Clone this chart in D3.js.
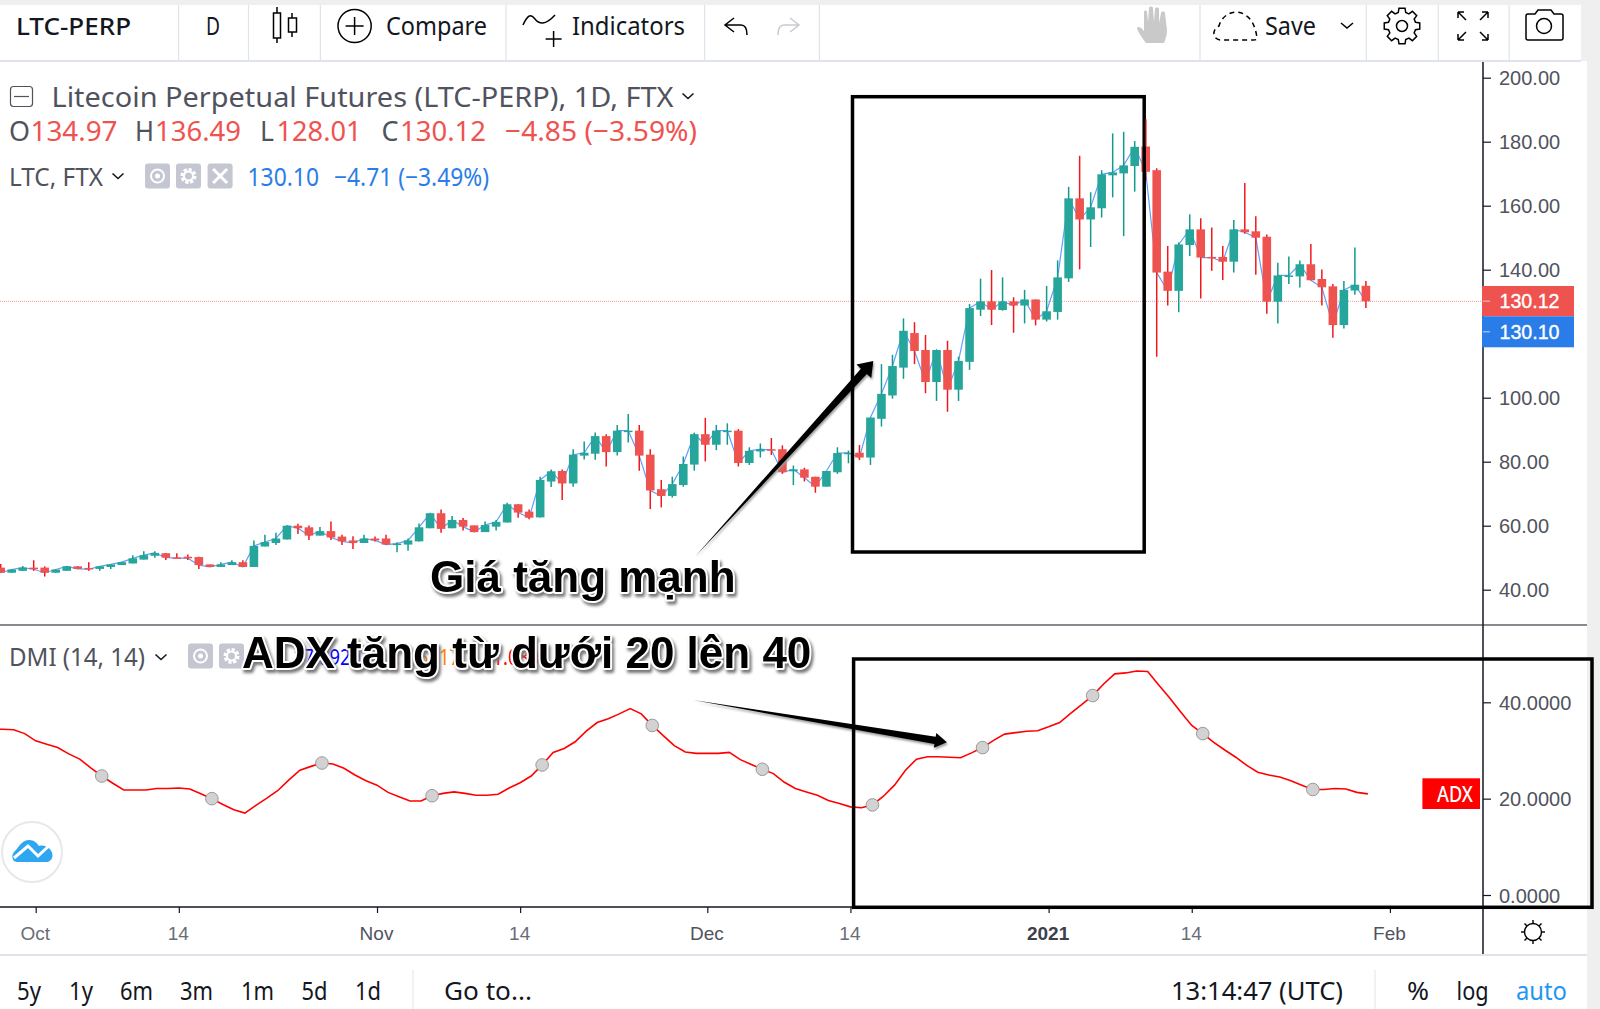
<!DOCTYPE html>
<html>
<head>
<meta charset="utf-8">
<script src="https://cdn.jsdelivr.net/npm/d3@7"></script>
<style>
  html, body { margin: 0; padding: 0; background: #fff; overflow: hidden; }
  svg { display: block; }
  .axis text { font-family: "Liberation Sans", Arial, sans-serif; }
  .axis path { display: none; }
  .callout { font-family: "Liberation Sans", Arial, sans-serif; font-weight: bold; font-size: 44px;
    fill: #000; stroke: #fff; stroke-width: 4px; paint-order: stroke; stroke-linejoin: round;
    filter: drop-shadow(2px 3px 1.5px #777); }
  .pointer { fill: #000; filter: drop-shadow(1px 2px 1px #999); }
</style>
</head>
<body>
<div id="chart"></div>
<script>
// daily candles, 28 Sep 2020 -> 30 Jan 2021
const opens = [46.9,45.3,45.9,46.9,46.9,45.3,45.9,47.3,46.8,46.5,47.1,47.7,48.2,49.4,50.6,51.4,50.1,50.3,50.2,47.9,47.1,47.7,48.6,47.1,53.5,54.6,55.7,60.0,59.5,56.9,58.3,56.6,55.4,54.6,56.0,56.0,54.2,54.1,55.1,59.2,63.9,59.2,61.8,60.1,58.0,59.7,61.0,66.7,64.4,62.6,73.8,77.1,73.2,81.9,82.5,88.0,83.0,89.4,89.7,82.2,71.4,69.3,72.7,79.1,88.6,85.3,89.4,89.7,79.6,83.2,83.9,83.9,77.0,77.6,75.3,72.2,76.7,82.5,82.8,81.3,93.4,100.7,109.4,120.2,114.9,104.9,114.9,102.5,111.2,127.5,130.1,127.4,130.1,128.8,130.7,124.4,126.8,137.3,162.3,155.7,159.2,169.5,170.1,172.4,178.5,171.1,139.4,133.4,147.7,152.6,144.0,144.0,142.5,152.6,152.0,150.3,130.0,138.0,137.9,141.7,137.1,134.8,122.7,133.5,134.97];
const highs = [48.0,46.4,47.4,49.2,47.3,46.4,47.4,47.4,48.6,47.4,48.0,48.7,50.8,52.0,52.0,51.5,51.4,51.0,50.3,47.9,48.6,49.2,49.2,55.4,57.2,57.8,60.1,60.6,60.1,59.6,61.3,57.2,56.7,57.2,56.6,57.2,54.8,56.0,60.7,63.9,65.1,63.0,62.4,60.1,61.3,61.8,67.2,66.7,65.1,75.3,77.6,77.6,83.9,86.3,89.1,88.6,91.5,94.9,91.5,83.9,74.3,75.3,81.6,89.1,93.7,91.5,92.0,90.2,84.5,85.7,87.4,85.1,78.8,78.1,75.3,77.1,84.5,83.5,85.2,93.8,110.5,113.4,124.8,123.6,119.6,114.9,117.8,112.8,129.3,137.2,139.9,137.6,131.4,133.7,130.7,134.9,142.9,165.9,175.6,164.2,171.1,182.6,183.1,180.2,187.0,171.7,147.4,148.5,157.3,156.1,153.2,147.4,155.5,167.1,156.7,151.0,142.2,144.1,142.9,148.0,140.1,135.5,136.5,146.9,136.49];
const lows = [45.3,45.3,45.9,45.9,44.1,45.3,45.9,46.5,45.9,45.9,46.5,47.7,48.2,49.4,50.0,49.3,49.9,49.3,46.5,47.1,47.1,47.7,47.1,47.1,53.5,54.0,55.7,57.4,55.5,56.9,55.5,54.0,52.7,54.6,55.1,54.0,51.7,52.2,55.1,59.2,57.8,59.2,58.5,58.0,58.0,58.5,61.0,62.5,62.0,62.6,72.1,68.0,72.2,80.7,80.6,78.5,81.9,86.0,77.2,65.2,65.7,68.8,72.2,77.2,80.1,83.6,85.3,78.5,79.0,81.3,82.1,76.2,72.7,73.8,70.3,72.2,76.2,79.5,80.5,79.0,91.0,99.7,105.9,110.5,101.4,99.0,95.6,99.0,108.7,125.5,122.7,127.2,120.3,123.2,122.6,123.8,124.4,136.2,140.1,147.1,156.3,162.6,150.5,164.4,168.0,112.8,128.8,126.7,144.3,131.0,139.7,136.8,139.1,151.2,138.4,126.2,123.2,135.5,134.4,136.7,128.8,118.7,121.6,132.2,128.01];
const closes = [45.3,46.3,46.9,46.4,45.3,46.3,47.3,46.5,46.4,47.3,47.9,48.6,49.8,50.8,51.5,50.0,49.9,49.8,47.7,47.1,47.9,48.6,47.1,53.7,54.9,56.0,60.0,59.2,56.9,58.3,56.3,55.1,54.6,56.0,55.4,54.1,54.4,55.4,59.5,63.9,59.0,61.8,59.7,58.0,60.2,61.2,66.7,64.1,62.5,74.3,77.0,73.2,82.2,82.8,88.0,83.0,89.7,89.7,81.9,71.0,69.3,73.0,79.3,88.6,85.3,89.7,89.7,79.6,83.4,83.9,83.7,76.7,77.6,75.0,72.2,77.1,82.7,82.8,81.3,93.8,101.2,109.9,120.9,114.6,104.9,114.9,102.5,111.5,128.0,130.1,127.5,130.1,128.8,130.7,124.4,127.0,137.6,162.3,155.7,159.5,169.8,170.4,172.6,178.4,170.6,139.1,133.4,147.9,152.6,143.8,143.8,142.5,152.6,151.7,150.0,130.0,138.2,138.2,141.7,136.7,134.5,122.7,133.7,135.3,130.12];
// adx starts one day earlier than the candles, it runs off the left edge
const adxValues = [34.4,34.4,34.3,33.5,32.0,31.3,30.6,29.3,28.2,26.4,24.7,23.2,21.8,21.8,21.8,22.1,22.1,22.2,22.0,21.0,20.0,18.8,17.7,17.0,18.6,20.1,21.7,23.9,25.9,26.7,27.4,27.2,26.3,24.9,23.7,22.8,21.3,20.4,19.5,19.5,20.6,21.1,21.4,21.1,20.7,20.7,20.9,22.2,23.3,24.7,27.0,29.6,30.4,31.8,34.0,35.8,36.6,37.6,38.7,37.6,35.2,33.1,31.0,29.7,29.4,29.4,29.4,29.6,28.1,27.1,26.1,25.2,23.4,22.1,21.4,20.7,19.6,19.0,18.3,18.1,18.7,20.5,22.8,25.9,28.2,28.7,28.7,28.6,28.5,29.5,30.6,32.1,33.4,33.7,34.0,34.1,34.9,35.8,37.7,39.5,41.4,43.8,45.9,46.1,46.5,46.4,43.6,40.9,38.0,35.2,33.5,31.7,30.1,28.6,26.9,25.5,24.9,24.5,23.7,22.8,21.9,21.9,22.1,22.0,21.3,21.0];

const priceTicks = [40, 60, 80, 100, 120, 140, 160, 180, 200];
const adxTicks = [0, 20, 40];
const timeTicks = [[2020, 9, 1], [2020, 9, 14], [2020, 10, 1], [2020, 10, 14], [2020, 11, 1], [2020, 11, 14], [2021, 0, 1], [2021, 0, 14], [2021, 1, 1]];
const timeLabels = ["Oct", "14", "Nov", "14", "Dec", "14", "2021", "14", "Feb"];
const rangeButtons = ["5y", "1y", "6m", "3m", "1m", "5d", "1d"];
const rangeLeft = [17, 69, 120, 180, 241, 301.5, 355];
const rangeWidth = [24, 24, 33, 33, 33, 26, 26];

const W = 1600, H = 1009;
const axisX = 1483, paneSplit = 625, timeY = 907, footerY = 955;
const firstDay = new Date(Date.UTC(2020, 8, 28));
const lastDay = new Date(Date.UTC(2021, 0, 30));
const GREEN = "#26a69a", RED = "#ef5350", INK = "#131722", MUTED = "#50535e", BLUE = "#2a7de8";
const UI_FONT = '"Noto Sans", sans-serif';

const svg = d3.select("#chart").append("svg").attr("width", W).attr("height", H);
svg.append("rect").attr("width", W).attr("height", H).attr("fill", "#fff");

const x = d3.scaleUtc().domain([firstDay, lastDay]).range([0.67, 1365.9]);
const y = d3.scaleLinear().domain([200, 40]).range([77.7, 589.7]);
const yAdx = d3.scaleLinear().domain([0, 40]).range([895, 702.3]);

const candles = opens.map((o, i) => ({
  day: d3.utcDay.offset(firstDay, i), o, h: highs[i], l: lows[i], c: closes[i],
}));
const adx = adxValues.map((v, i) => ({ day: d3.utcDay.offset(firstDay, i - 1), v, i }));

// plain text helper, width forces the run to the width seen in the picture
function label(parent, px, py, str, size, fill, width, family, weight) {
  const t = parent.append("text")
    .attr("x", px).attr("y", py).attr("dy", "0.36em")
    .attr("font-family", family || UI_FONT)
    .attr("font-size", size)
    .attr("font-weight", weight || 400)
    .attr("fill", fill)
    .text(str);
  if (width) t.attr("textLength", width).attr("lengthAdjust", "spacingAndGlyphs");
  return t;
}

// --- chrome ---
const chrome = svg.append("g");
chrome.append("rect").attr("width", W).attr("height", 5).attr("fill", "#efefef");
chrome.append("rect").attr("x", 1581).attr("width", 19).attr("height", 61).attr("fill", "#efefef");
chrome.append("rect").attr("x", 1587).attr("width", 13).attr("height", H).attr("fill", "#efefef");
chrome.append("line").attr("x1", 0).attr("x2", 1581).attr("y1", 61).attr("y2", 61).attr("stroke", "#e0e3eb").attr("stroke-width", 2);
chrome.append("line").attr("x1", 0).attr("x2", 1587).attr("y1", footerY).attr("y2", footerY).attr("stroke", "#e0e3eb").attr("stroke-width", 2);
[178.6, 248.5, 320.4, 506, 704.6, 819.4, 1200, 1366.3, 1438.3, 1509.2].forEach((sx) => {
  chrome.append("line").attr("x1", sx).attr("x2", sx).attr("y1", 5).attr("y2", 61).attr("stroke", "#e0e3eb").attr("stroke-width", 1.2);
});
[413, 1375].forEach((sx) => {
  chrome.append("line").attr("x1", sx).attr("x2", sx).attr("y1", 970).attr("y2", H).attr("stroke", "#e0e3eb");
});

// --- toolbar ---
const bar = svg.append("g");
label(bar, 16, 26, "LTC-PERP", 24, INK, 115, UI_FONT, 500);
label(bar, 206, 26, "D", 25, INK, 14);
const ico = bar.append("g").attr("fill", "none").attr("stroke", "#000").attr("stroke-width", 1.5);
ico.append("path").attr("d", "M277 7V13M277 38V43M292 13V18M292 32V37");
ico.append("rect").attr("x", 273.5).attr("y", 13).attr("width", 7).attr("height", 25);
ico.append("rect").attr("x", 288.5).attr("y", 18).attr("width", 8).attr("height", 14);
ico.append("circle").attr("cx", 354.6).attr("cy", 26).attr("r", 16.6);
ico.append("path").attr("d", "M354.6 17V35M345.6 26H363.6");
ico.append("path").attr("d", "M523 25C528 14 531 14 535 19C539 24 545 26 555 15M553.6 31V47M545.6 39H561.6");
ico.append("path").attr("d", "M734 18L725 25L734 32M725 25H741C745 25 747 29 747 35");
ico.append("path").attr("stroke", "#c8cad0").attr("d", "M790 18L799 25L790 32M799 25H784C780 25 778 29 778 35");
label(bar, 386, 26, "Compare", 26, INK, 101);
label(bar, 572, 26, "Indicators", 26, INK, 113);

// hand
bar.append("path").attr("fill", "#c9c9c9")
  .attr("d", "M1146 43C1142 38 1137 30 1137 28C1138 26 1141 27 1144 31L1144 12C1144 10 1147 10 1147 12L1148 22L1149 8C1149 6 1153 6 1153 8L1154 22L1155 9C1155 7 1159 7 1159 9L1159 23L1161 13C1161 11 1165 11 1165 13L1167 30C1167 36 1165 40 1164 43Z");

// save
ico.append("path").attr("stroke-dasharray", "5 4")
  .attr("d", "M1220 40C1212 39 1212 29 1219 26C1222 14 1236 8 1245 15C1253 19 1256 30 1257 38C1257 40 1255 40 1253 40Z");
label(bar, 1265, 26, "Save", 26, INK, 51);
ico.append("path").attr("d", "M1341 23L1347 28L1353 23");

// gear with 8 square teeth
const gear = d3.range(8).flatMap((k) => {
  const a = (k / 8) * 2 * Math.PI;
  return [[a - 0.27, 14], [a - 0.17, 18], [a + 0.17, 18], [a + 0.27, 14]]
    .map(([t, r]) => [1402 + r * Math.cos(t), 26 + r * Math.sin(t)]);
});
ico.append("path").attr("d", d3.line().curve(d3.curveLinearClosed)(gear));
ico.append("circle").attr("cx", 1402).attr("cy", 26).attr("r", 5.5);

ico.append("path").attr("d", "M1458 12L1466 20M1458 12V18M1458 12H1464M1488 12L1480 20M1488 12V18M1488 12H1482M1458 40L1466 32M1458 40V34M1458 40H1464M1488 40L1480 32M1488 40V34M1488 40H1482");
ico.append("path").attr("d", "M1528 14H1535L1538 10H1551L1554 14H1561C1563 14 1563 15 1563 16V38C1563 39 1562 40 1561 40H1528C1526 40 1526 39 1526 38V16C1526 15 1526 14 1528 14Z");
ico.append("circle").attr("cx", 1544).attr("cy", 26).attr("r", 7.5);

// --- legend ---
const legend = svg.append("g");
legend.append("rect").attr("x", 10.5).attr("y", 86.5).attr("width", 22).attr("height", 20).attr("rx", 3)
  .attr("fill", "none").attr("stroke", MUTED).attr("stroke-width", 1.2);
legend.append("line").attr("x1", 14).attr("x2", 29).attr("y1", 96.5).attr("y2", 96.5).attr("stroke", MUTED).attr("stroke-width", 1.2);
label(legend, 51.5, 97, "Litecoin Perpetual Futures (LTC-PERP), 1D, FTX", 28, MUTED, 622);
const chev = (g, cx, cy) => g.append("path")
  .attr("d", `M${cx - 5.5} ${cy - 2.5}L${cx} ${cy + 2.5}L${cx + 5.5} ${cy - 2.5}`)
  .attr("fill", "none").attr("stroke", INK).attr("stroke-width", 1.6);
chev(legend, 688, 96);

const ohlc = [
  [9, "O", MUTED, 21], [30.5, "134.97", RED, 87],
  [135, "H", MUTED, 19], [155, "136.49", RED, 86],
  [260, "L", MUTED, 14], [276.5, "128.01", RED, 85],
  [381.5, "C", MUTED, 17], [400, "130.12", RED, 86],
  [505, "\u22124.85 (\u22123.59%)", RED, 192],
];
ohlc.forEach(([px, str, col, w]) => label(legend, px, 131, str, 28, col, w));

label(legend, 9, 176.5, "LTC, FTX", 25, MUTED, 94);
chev(legend, 118, 176);
label(legend, 247.5, 176.5, "130.10", 25, BLUE, 71.5);
label(legend, 334, 176.5, "\u22124.71 (\u22123.49%)", 25, BLUE, 155);

function paneButtons(g, xs, top, h, w) {
  xs.forEach((bx, k) => {
    g.append("rect").attr("x", bx).attr("y", top).attr("width", w).attr("height", h).attr("rx", 3).attr("fill", "#c4c7d1");
    const cx = bx + w / 2, cy = top + h / 2;
    if (k === 0) {
      g.append("circle").attr("cx", cx).attr("cy", cy).attr("r", 6.5).attr("fill", "none").attr("stroke", "#fff").attr("stroke-width", 2);
      g.append("circle").attr("cx", cx).attr("cy", cy).attr("r", 2.5).attr("fill", "#fff");
    } else if (k === 1) {
      g.append("circle").attr("cx", cx).attr("cy", cy).attr("r", 6).attr("fill", "none").attr("stroke", "#fff").attr("stroke-width", 4).attr("stroke-dasharray", "3 1.6");
      g.append("circle").attr("cx", cx).attr("cy", cy).attr("r", 4.5).attr("fill", "none").attr("stroke", "#fff").attr("stroke-width", 2);
    } else {
      g.append("path").attr("d", `M${cx - 7} ${cy - 7}L${cx + 7} ${cy + 7}M${cx + 7} ${cy - 7}L${cx - 7} ${cy + 7}`).attr("stroke", "#fff").attr("stroke-width", 3);
    }
  });
}
paneButtons(legend, [145, 176, 207.6], 163.5, 25, 25);

// DMI legend, mostly covered by the callout later
label(legend, 9, 657, "DMI (14, 14)", 25, MUTED, 136);
chev(legend, 161, 657);
paneButtons(legend, [188, 219], 643.5, 25, 25);
label(legend, 293, 657, "17.8929", 22, "#0000ff", 68);
label(legend, 392, 657, "16.5117", 22, "#ff7f00", 68);
label(legend, 482, 657, "21.0804", 22, "#ff0000", 68);

// --- price pane ---
const plot = svg.append("g");
plot.append("line").attr("x1", 0).attr("x2", axisX).attr("y1", y(closes[closes.length - 1])).attr("y2", y(closes[closes.length - 1]))
  .attr("stroke", RED).attr("stroke-width", 1).attr("stroke-dasharray", "1 1").attr("opacity", 0.6);

plot.append("path").datum(candles)
  .attr("fill", "none").attr("stroke", "#5f9fff").attr("stroke-width", 1.2)
  .attr("d", d3.line().x((d) => x(d.day)).y((d) => y(d.c)));

plot.selectAll("line.wick").data(candles).join("line")
  .attr("class", "wick")
  .attr("x1", (d) => x(d.day)).attr("x2", (d) => x(d.day))
  .attr("y1", (d) => y(d.h)).attr("y2", (d) => y(d.l))
  .attr("stroke", (d) => (d.c >= d.o ? "#129a8c" : "#f5161b"))
  .attr("stroke-width", 1.5);

plot.selectAll("rect.body").data(candles).join("rect")
  .attr("class", "body")
  .attr("x", (d) => x(d.day) - 4.3)
  .attr("width", 8.6)
  .attr("y", (d) => y(Math.max(d.o, d.c)))
  .attr("height", (d) => Math.max(1.5, Math.abs(y(d.o) - y(d.c))))
  .attr("fill", (d) => (d.c >= d.o ? GREEN : RED));

// --- ADX pane (this pane sits 2px right of the candles in the picture) ---
const paneShift = 2;
const adxG = svg.append("g").attr("transform", `translate(${paneShift},0)`);
adxG.append("path").datum(adx)
  .attr("fill", "none").attr("stroke", "#ff0000").attr("stroke-width", 1.6)
  .attr("d", d3.line().x((d) => x(d.day)).y((d) => yAdx(d.v)));
adxG.selectAll("circle").data(adx.filter((d) => d.i % 10 === 0 && d.i > 0)).join("circle")
  .attr("cx", (d) => x(d.day)).attr("cy", (d) => yAdx(d.v)).attr("r", 6.3)
  .attr("fill", "#d2d2d2").attr("stroke", "#9a9a9a").attr("stroke-width", 1);

// floating logo
const logo = svg.append("g");
logo.append("circle").attr("cx", 32).attr("cy", 852).attr("r", 30).attr("fill", "#fff").attr("stroke", "#e8e8e8").attr("stroke-width", 2);
logo.append("path").attr("fill", "#2ea6f2")
  .attr("d", "M17 862C11 862 11 853 16 850C19 846 23 840 29 840C34 840 37 843 39 846C46 844 53 850 52.5 856C52 860 49 862 46 862Z");
logo.append("path").attr("fill", "none").attr("stroke", "#fff").attr("stroke-width", 3)
  .attr("d", "M14 858L28 846L38 856L52 843");

// --- axes ---
const axisLines = svg.append("g").attr("stroke", INK);
axisLines.append("line").attr("x1", axisX).attr("x2", axisX).attr("y1", 62).attr("y2", 954).attr("stroke-width", 1.5);
axisLines.append("line").attr("x1", 0).attr("x2", 1587).attr("y1", paneSplit).attr("y2", paneSplit).attr("stroke-width", 1.2);
axisLines.append("line").attr("x1", 0).attr("x2", axisX).attr("y1", timeY).attr("y2", timeY).attr("stroke-width", 1.5);

function styleAxis(g) {
  g.call((s) => s.selectAll(".tick line").attr("stroke", INK).attr("stroke-width", 1.2));
  g.call((s) => s.selectAll(".tick text").attr("fill", MUTED).attr("font-size", 20));
}

svg.append("g").attr("class", "axis").attr("transform", `translate(${axisX},0)`)
  .call(d3.axisRight(y).tickValues(priceTicks).tickSize(8).tickPadding(8).tickFormat(d3.format(".2f")))
  .call(styleAxis)
  .call((s) => s.selectAll(".tick text").attr("dy", "0.36em"));

svg.append("g").attr("class", "axis").attr("transform", `translate(${axisX},0)`)
  .call(d3.axisRight(yAdx).tickValues(adxTicks).tickSize(8).tickPadding(8).tickFormat(d3.format(".4f")))
  .call(styleAxis)
  .call((s) => s.selectAll(".tick text").attr("dy", "0.36em"));

const timeDates = timeTicks.map(([yr, mo, da]) => new Date(Date.UTC(yr, mo, da)));
svg.append("g").attr("class", "axis").attr("transform", `translate(${paneShift},${timeY})`)
  .call(d3.axisBottom(x).tickValues(timeDates).tickSize(6).tickPadding(12)
    .tickFormat((_, i) => timeLabels[i]))
  .call(styleAxis)
  .call((s) => s.selectAll(".tick text").attr("font-size", 19).attr("dy", "0.8em").attr("dx", -1)
    .attr("fill", (_, i) => (timeLabels[i] === "2021" ? "#3d404b" : (timeLabels[i] === "14" || timeLabels[i] === "Oct" ? "#6a6d78" : MUTED)))
    .attr("font-weight", (_, i) => (timeLabels[i] === "2021" ? 700 : 400)));

// last value tags
const tags = svg.append("g");
[[286, 30.3, RED, "130.12"], [316.3, 31, BLUE, "130.10"]].forEach(([top, h, col, str]) => {
  tags.append("rect").attr("x", 1482).attr("y", top).attr("width", 92).attr("height", h).attr("fill", col);
  tags.append("line").attr("x1", 1483).attr("x2", 1490).attr("y1", top + h / 2).attr("y2", top + h / 2).attr("stroke", "#fff").attr("opacity", 0.7);
  label(tags, 1499.5, top + h / 2 - 0.5, str, 20, "#fff", 60, '"Liberation Sans", Arial, sans-serif', 400)
    .attr("stroke", "#fff").attr("stroke-width", 0.35);
});
tags.append("rect").attr("x", 1422.4).attr("y", 778.3).attr("width", 57.6).attr("height", 30.7).attr("fill", "#ff0000");
label(tags, 1437, 794, "ADX", 22, "#fff", 36, UI_FONT, 500);

// sun icon
const sun = svg.append("g").attr("fill", "none").attr("stroke", "#000").attr("stroke-width", 1.4);
sun.append("circle").attr("cx", 1533).attr("cy", 932).attr("r", 8.5);
d3.range(8).forEach((k) => {
  const a = (k / 8) * 2 * Math.PI;
  sun.append("line")
    .attr("x1", 1533 + 8.5 * Math.cos(a)).attr("y1", 932 + 8.5 * Math.sin(a))
    .attr("x2", 1533 + 12 * Math.cos(a)).attr("y2", 932 + 12 * Math.sin(a));
});

// --- footer ---
const foot = svg.append("g");
rangeButtons.forEach((b, i) => label(foot, rangeLeft[i], 991, b, 26, INK, rangeWidth[i]));
label(foot, 444, 991, "Go to...", 26, INK, 88);
label(foot, 1171, 991, "13:14:47 (UTC)", 26, INK, 172);
label(foot, 1407, 991, "%", 26, INK, 22);
label(foot, 1456.6, 991, "log", 26, INK, 32);
label(foot, 1516, 991, "auto", 26, "#2196f3", 51);

// --- hand drawn annotations on top ---
function pointerPath(tail, tip, neck, head, len) {
  const dx = tip[0] - tail[0], dy = tip[1] - tail[1];
  const d = Math.hypot(dx, dy), ux = dx / d, uy = dy / d, nx = -uy, ny = ux;
  const bx = tip[0] - ux * len, by = tip[1] - uy * len;
  const pts = [
    [tail[0], tail[1]],
    [bx + (nx * neck) / 2, by + (ny * neck) / 2],
    [bx + (nx * head) / 2, by + (ny * head) / 2],
    tip,
    [bx - (nx * head) / 2, by - (ny * head) / 2],
    [bx - (nx * neck) / 2, by - (ny * neck) / 2],
  ];
  return d3.line().curve(d3.curveLinearClosed)(pts);
}
const notes = svg.append("g");
notes.append("path").attr("class", "pointer").attr("d", pointerPath([695, 556.7], [873.3, 361], 8, 20, 14));
notes.append("path").attr("class", "pointer").attr("d", pointerPath([693, 700], [946.9, 742.3], 7.5, 15, 12));

notes.append("rect").attr("x", 852.5).attr("y", 96.7).attr("width", 291.7).attr("height", 455.3)
  .attr("fill", "none").attr("stroke", "#000").attr("stroke-width", 3.5);
notes.append("rect").attr("x", 853.6).attr("y", 659).attr("width", 738.4).attr("height", 248.3)
  .attr("fill", "none").attr("stroke", "#000").attr("stroke-width", 3.5);

// the tall red wick shows through the box edge in the picture
const throughWick = candles[104];
notes.append("line")
  .attr("x1", x(throughWick.day)).attr("x2", x(throughWick.day))
  .attr("y1", y(throughWick.h)).attr("y2", y(throughWick.o))
  .attr("stroke", "#b3161a").attr("stroke-width", 1);

notes.append("text").attr("class", "callout").attr("x", 430).attr("y", 592).text("Giá tăng mạnh");
notes.append("text").attr("class", "callout").attr("x", 242).attr("y", 668).text("ADX tăng từ dưới 20 lên 40");
</script>
</body>
</html>
